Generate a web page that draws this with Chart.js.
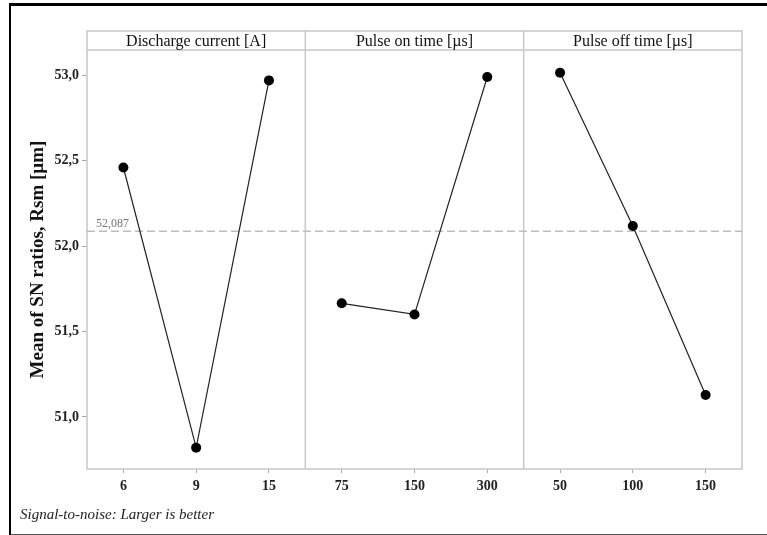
<!DOCTYPE html>
<html>
<head>
<meta charset="utf-8">
<script src="https://cdn.jsdelivr.net/npm/chart.js@4"></script>
<style>
    body { margin: 0; background: #fff; }
    #wrap { position: relative; width: 767px; height: 535px; overflow: hidden; }
    #frame {
        position: absolute; left: 9px; top: 3px; width: 770px; height: 528px;
        border-left: 2px solid #000; border-top: 3px solid #000; border-bottom: 2px solid #555;
    }
    #chart { position: absolute; left: 0; top: 0; }
    #note {
        position: absolute; left: 20px; top: 506px;
        font: italic 15px "Liberation Serif", serif; color: #222;
    }
</style>
</head>
<body>
<div id="wrap">
    <div id="frame"></div>
    <canvas id="chart" width="767" height="535"></canvas>
    <div id="note">Signal-to-noise: Larger is better</div>
</div>
<script>
const factors = ['Discharge current [A]', 'Pulse on time [µs]', 'Pulse off time [µs]'];
const levelLabels = ['6', '9', '15', '75', '150', '300', '50', '100', '150'];
const dischargeMeans = [52.46, 50.82, 52.97];
const pulseOnMeans = [51.665, 51.60, 52.99];
const pulseOffMeans = [53.015, 52.118, 51.128];
const overallMean = 52.087;

const serif = '"Liberation Serif", "Times New Roman", serif';
const frameGrey = '#c8c8c8';

function fmt(v, digits) {
    return v.toFixed(digits).replace('.', ',');
}

function panelData(values, panel) {
    const data = levelLabels.map(() => null);
    values.forEach((v, i) => { data[panel * 3 + i] = v; });
    return data;
}

// header strip, panel dividers, reference line
const panelPlugin = {
    id: 'panels',
    beforeDatasetsDraw(chart) {
        const { ctx, chartArea: a, scales: { x, y } } = chart;
        const headerTop = 31;
        const band = (a.right - a.left) / factors.length;

        ctx.save();
        ctx.strokeStyle = frameGrey;
        ctx.lineWidth = 1.5;
        ctx.strokeRect(a.left, headerTop, a.right - a.left, a.bottom - headerTop);
        ctx.beginPath();
        ctx.moveTo(a.left, a.top);
        ctx.lineTo(a.right, a.top);
        for (let p = 1; p < factors.length; p++) {
            const px = (x.getPixelForValue(p * 3 - 1) + x.getPixelForValue(p * 3)) / 2;
            ctx.moveTo(px, headerTop);
            ctx.lineTo(px, a.bottom);
        }
        ctx.stroke();

        ctx.fillStyle = '#111';
        ctx.font = '16px ' + serif;
        ctx.textAlign = 'center';
        ctx.textBaseline = 'middle';
        factors.forEach((f, i) => {
            ctx.fillText(f, a.left + band * (i + 0.5), (headerTop + a.top) / 2 + 1);
        });

        const my = y.getPixelForValue(overallMean);
        ctx.strokeStyle = '#bdbdbd';
        ctx.setLineDash([8, 4]);
        ctx.beginPath();
        ctx.moveTo(a.left, my);
        ctx.lineTo(a.right, my);
        ctx.stroke();
        ctx.setLineDash([]);

        ctx.fillStyle = '#777';
        ctx.font = '12px ' + serif;
        ctx.textAlign = 'left';
        ctx.textBaseline = 'bottom';
        ctx.fillText(fmt(overallMean, 3), a.left + 9, my - 1);
        ctx.restore();
    },
};

const series = [dischargeMeans, pulseOnMeans, pulseOffMeans];

new Chart(document.getElementById('chart'), {
    type: 'line',
    data: {
        labels: levelLabels,
        datasets: series.map((values, i) => ({
            label: factors[i],
            data: panelData(values, i),
            borderColor: '#222',
            borderWidth: 1.2,
            backgroundColor: '#000',
            pointRadius: 5,
            pointBorderWidth: 0,
            spanGaps: false,
        })),
    },
    options: {
        responsive: false,
        animation: false,
        devicePixelRatio: 1,
        layout: { padding: { left: 0, top: 50, right: 25, bottom: 0 } },
        plugins: {
            legend: { display: false },
            tooltip: { enabled: false },
        },
        scales: {
            x: {
                type: 'category',
                offset: true,
                afterFit: (scale) => { scale.height = 66; },
                border: { display: false },
                grid: {
                    drawOnChartArea: false,
                    drawTicks: true,
                    tickLength: 4,
                    color: '#aaa',
                },
                ticks: {
                    autoSkip: false,
                    maxRotation: 0,
                    padding: 5,
                    color: '#222',
                    font: { family: serif, size: 14, weight: 'bold' },
                },
            },
            y: {
                min: 50.695,
                max: 53.148,
                afterFit: (scale) => { scale.width = 87; },
                border: { display: false },
                grid: {
                    drawOnChartArea: false,
                    drawTicks: true,
                    tickLength: 5,
                    color: '#aaa',
                },
                ticks: {
                    stepSize: 0.5,
                    includeBounds: false,
                    padding: 3,
                    color: '#222',
                    font: { family: serif, size: 14, weight: 'bold' },
                    callback: (v) => fmt(v, 1),
                },
                title: {
                    display: true,
                    text: 'Mean of SN ratios, Rsm [µm]',
                    color: '#111',
                    padding: { top: 27, bottom: 0 },
                    font: { family: serif, size: 19, weight: 'bold' },
                },
            },
        },
    },
    plugins: [panelPlugin],
});
</script>
</body>
</html>
